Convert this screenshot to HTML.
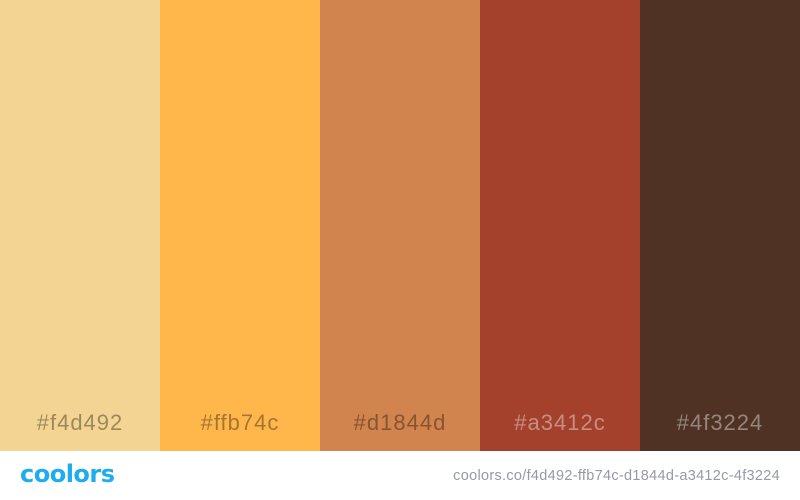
<!DOCTYPE html>
<html><head><meta charset="utf-8"><style>
html,body{margin:0;padding:0;width:800px;height:500px;overflow:hidden;background:#fff;font-family:"Liberation Sans",sans-serif}
#swatches{position:absolute;left:0;top:0;width:800px;height:451px;display:flex}
.sw{width:160px;height:451px;position:relative}
.sw span{position:absolute;left:0;right:0;top:410px;text-align:center;font-size:22px;letter-spacing:1px;color:rgba(0,0,0,0.36)}
.sw.dark span{color:rgba(255,255,255,0.4)}
#logo{position:absolute;left:20px;top:460px;font-size:24px;font-weight:bold;color:#1eacf0;letter-spacing:-0.5px;font-family:"DejaVu Sans","Liberation Sans",sans-serif}
#url{position:absolute;right:20px;top:468px;font-size:14.5px;color:#959aa6;letter-spacing:0.3px}
</style></head><body>
<div id="swatches"></div>
<div id="logo">coolors</div>
<div id="url">coolors.co/f4d492-ffb74c-d1844d-a3412c-4f3224</div>
<script>
const colors=["f4d492","ffb74c","d1844d","a3412c","4f3224"];
const darkFlags=[false,false,false,true,true];
const wrap=document.getElementById('swatches');
colors.forEach((c,i)=>{
  const d=document.createElement('div');
  d.className='sw'+(darkFlags[i]?' dark':'');
  d.style.background='#'+c;
  
  
  const s=document.createElement('span');
  s.textContent='#'+c;
  
  
  d.appendChild(s);
  wrap.appendChild(d);
});
</script>
</body></html>
